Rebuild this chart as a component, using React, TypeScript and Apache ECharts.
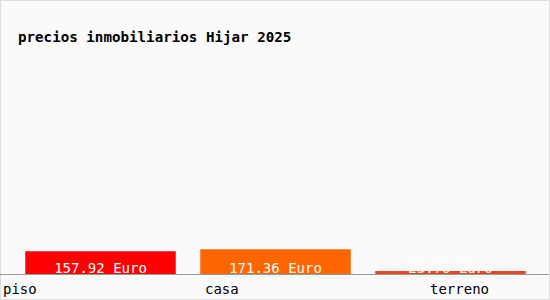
import React, { useEffect, useRef } from "react";
import * as echarts from "echarts";

const title = "precios inmobiliarios Hijar 2025";
const categories = ["piso", "casa", "terreno"];
const values = [157.92, 171.36, 23.76];
const colors = ["#ff0000", "#ff6600", "#e8461e"];
const labelX = [3, 205, 430];

export default function App() {
  const ref = useRef<HTMLDivElement>(null);
  useEffect(() => {
    document.body.style.margin = "0";
    const chart = echarts.init(ref.current!, null, { renderer: "svg" });
    const font = "'DejaVu Sans Mono', monospace";
    chart.setOption({
      animation: false,
      backgroundColor: "#fafafa",
      title: {
        text: title,
        left: 13,
        top: 25,
        textStyle: { fontFamily: font, fontSize: 14.2, fontWeight: "bold", color: "#000" },
      },
      grid: { left: 13, right: 12, top: 60, bottom: 25.5 },
      xAxis: {
        type: "category",
        data: categories,
        axisLine: { show: false },
        axisTick: { show: false },
        axisLabel: { show: false },
      },
      yAxis: {
        type: "value",
        min: 0,
        max: 1450,
        show: false,
        splitLine: { show: false },
      },
      series: [
        {
          type: "bar",
          barWidth: "86%",
          data: values.map((v, i) => ({ value: v, itemStyle: { color: colors[i] } })),
          label: {
            show: true,
            position: "insideBottom",
            distance: 0,
            color: "#fff",
            fontFamily: font,
            fontSize: 14,
            formatter: (p: any) => p.value.toFixed(2) + " Euro",
          },
        },
      ],
      graphic: [
        {
          type: "rect",
          shape: { x: 0.5, y: 0.5, width: 549, height: 299 },
          style: { fill: "none", stroke: "#dddddd", lineWidth: 1 },
          silent: true,
        },
        {
          type: "line",
          shape: { x1: 0, y1: 274.5, x2: 549, y2: 274.5 },
          style: { stroke: "#999999", lineWidth: 1 },
          z: 10,
        },
        ...categories.map((c, i) => ({
          type: "text",
          x: labelX[i],
          y: 289,
          style: {
            text: c,
            fontFamily: font,
            fontSize: 14,
            fill: "#000",
            verticalAlign: "middle",
          },
        })),
      ],
    });
    return () => chart.dispose();
  }, []);
  return <div ref={ref} style={{ width: 550, height: 300, position: "absolute", left: 0, top: 0 }} />;
}
